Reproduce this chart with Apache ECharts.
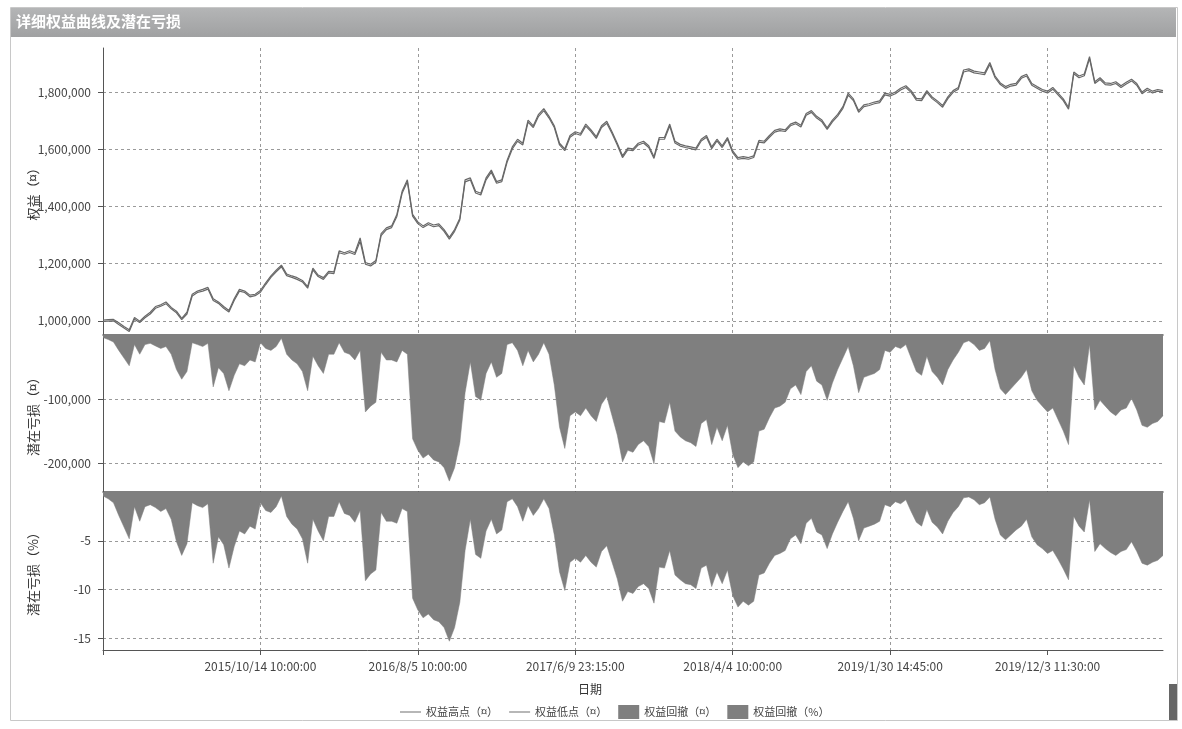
<!DOCTYPE html>
<html>
<head>
<meta charset="utf-8">
<title>详细权益曲线及潜在亏损</title>
<script src="https://cdn.jsdelivr.net/npm/echarts@6/dist/echarts.min.js"></script>
<style>
  html, body { margin: 0; padding: 0; background: #fff; }
  #chart { width: 1182px; height: 729px; }
</style>
</head>
<body>
<div id="chart"></div>
<script>
// x 轴刻度标签，每 30 个点一个
const tickLabels = ['', '2015/10/14 10:00:00', '2016/8/5 10:00:00', '2017/6/9 23:15:00',
  '2018/4/4 10:00:00', '2019/1/30 14:45:00', '2019/12/3 11:30:00'];

// 权益高点 / 低点（千）
const equityHigh = [
  1003, 1004, 1005, 993, 980, 969, 1012, 999, 1016, 1030, 1050, 1056, 1066, 1047, 1034, 1009, 1030, 1093, 1104, 1110,
  1117, 1077, 1066, 1050, 1036, 1077, 1110, 1104, 1090, 1093, 1106, 1133, 1157, 1177, 1195, 1164, 1157, 1151, 1141, 1120,
  1184, 1160, 1151, 1173, 1171, 1245, 1238, 1245, 1238, 1290, 1204,
  1198, 1211, 1305, 1325, 1332, 1372, 1453, 1493, 1372, 1346, 1332, 1343, 1335, 1339, 1319, 1292, 1319, 1359, 1493, 1500,
  1453, 1446, 1500, 1527, 1487, 1493, 1561, 1608, 1635, 1621, 1702, 1682, 1722, 1742, 1715, 1682, 1621, 1601, 1648, 1661,
  1655, 1688, 1668, 1644, 1682, 1698, 1661, 1621, 1577, 1604, 1601,
  1621, 1628, 1612, 1574, 1641, 1641, 1688, 1628, 1617, 1612, 1608, 1604, 1635, 1648, 1608, 1635, 1612, 1641, 1594, 1571,
  1574, 1571, 1577, 1631, 1628, 1648, 1666, 1671, 1668, 1688, 1695, 1684, 1725, 1735, 1715, 1702, 1675, 1702, 1722, 1749,
  1796, 1776, 1735, 1755, 1759, 1765, 1769, 1796, 1792, 1800,
  1813, 1822, 1805, 1778, 1776, 1805, 1783, 1769, 1753, 1783, 1805, 1816, 1877, 1881, 1873, 1870, 1867, 1903, 1856, 1832,
  1819, 1827, 1830, 1854, 1862, 1830, 1819, 1809, 1803, 1816, 1796, 1776, 1746, 1870, 1856, 1863, 1924, 1836, 1850, 1832,
  1830, 1836, 1822, 1834, 1845, 1830, 1800, 1813, 1803, 1809, 1805
];
const equityLow = [
  998, 999, 1000, 987, 975, 963, 1006, 994, 1011, 1024, 1044, 1051, 1060, 1042, 1028, 1004, 1024, 1087, 1099, 1104,
  1111, 1071, 1061, 1044, 1031, 1071, 1104, 1099, 1084, 1088, 1100, 1127, 1152, 1171, 1189, 1158, 1152, 1145, 1136, 1114,
  1178, 1155, 1145, 1168, 1165, 1238, 1233, 1239, 1232, 1278, 1198,
  1192, 1205, 1298, 1319, 1326, 1365, 1446, 1486, 1366, 1340, 1326, 1337, 1329, 1333, 1313, 1286, 1313, 1353, 1486, 1493,
  1447, 1440, 1493, 1520, 1481, 1487, 1554, 1601, 1628, 1615, 1695, 1676, 1715, 1735, 1709, 1676, 1615, 1595, 1642, 1655,
  1649, 1681, 1662, 1638, 1676, 1691, 1655, 1615, 1571, 1598, 1595,
  1615, 1622, 1606, 1568, 1635, 1635, 1681, 1622, 1611, 1606, 1602, 1598, 1629, 1642, 1602, 1629, 1606, 1635, 1588, 1565,
  1568, 1565, 1571, 1625, 1622, 1642, 1660, 1665, 1662, 1682, 1689, 1678, 1719, 1729, 1709, 1696, 1669, 1696, 1716, 1743,
  1789, 1770, 1729, 1749, 1753, 1759, 1763, 1790, 1786, 1794,
  1807, 1816, 1799, 1772, 1770, 1799, 1777, 1763, 1747, 1777, 1799, 1810, 1870, 1875, 1867, 1864, 1861, 1896, 1850, 1826,
  1813, 1821, 1824, 1848, 1856, 1824, 1813, 1803, 1797, 1810, 1790, 1770, 1740, 1864, 1850, 1857, 1917, 1830, 1844, 1826,
  1824, 1830, 1816, 1828, 1839, 1824, 1794, 1807, 1797, 1803, 1799
];

// 潜在亏损（千）
const drawdown = [
  -4, -7, -11, -24, -36, -48, -15, -30, -15, -13, -17, -21, -18, -30, -54, -69, -57, -12, -15, -18,
  -13, -81, -51, -60, -87, -63, -45, -48, -39, -42, -12, -21, -24, -18, -5, -30, -39, -45, -57, -87,
  -33, -48, -60, -30, -30, -12, -27, -30, -39, -24, -120,
  -111, -105, -27, -39, -39, -42, -24, -30, -162, -180, -192, -186, -195, -198, -207, -228, -207, -168, -90, -42,
  -96, -102, -60, -42, -66, -60, -15, -12, -24, -48, -24, -42, -30, -12, -30, -78, -144, -177, -126, -120,
  -126, -114, -126, -135, -108, -96, -126, -156, -198, -180, -183,
  -171, -165, -174, -201, -135, -137, -105, -150, -159, -165, -168, -174, -138, -132, -171, -144, -165, -141, -186, -207,
  -198, -204, -198, -150, -147, -129, -114, -111, -105, -84, -78, -93, -57, -48, -72, -78, -102, -75, -54, -36,
  -18, -48, -90, -66, -63, -60, -54, -24, -27, -18,
  -21, -15, -36, -57, -63, -33, -57, -66, -78, -54, -39, -27, -12, -9, -15, -24, -21, -9, -54, -84,
  -93, -84, -75, -66, -54, -87, -102, -111, -120, -114, -132, -150, -171, -48, -66, -78, -15, -117, -102, -111,
  -120, -126, -117, -114, -99, -117, -141, -144, -138, -135, -126
];

// 潜在亏损（%）
const drawdownPct = [
  -0.4, -0.7, -1.1, -2.4, -3.6, -4.8, -1.5, -3.0, -1.5, -1.3, -1.6, -2.0, -1.7, -2.8, -5.1, -6.5, -5.3, -1.1, -1.4, -1.6,
  -1.2, -7.3, -4.6, -5.4, -7.8, -5.6, -4.0, -4.3, -3.5, -3.8, -1.1, -1.9, -2.1, -1.5, -0.4, -2.5, -3.3, -3.8, -4.8, -7.3,
  -2.8, -4.0, -5.0, -2.5, -2.5, -1.0, -2.2, -2.4, -3.1, -1.9, -9.1,
  -8.4, -8.0, -2.1, -3.0, -3.0, -3.2, -1.7, -2.0, -10.9, -12.1, -12.9, -12.5, -13.1, -13.3, -13.9, -15.3, -13.9, -11.3, -6.0, -2.8,
  -6.4, -6.8, -4.0, -2.8, -4.3, -3.9, -1.0, -0.7, -1.5, -3.0, -1.4, -2.4, -1.7, -0.7, -1.7, -4.4, -8.2, -10.1, -7.2, -6.8,
  -7.2, -6.5, -7.2, -7.7, -6.1, -5.5, -7.2, -8.9, -11.2, -10.2, -10.4,
  -9.7, -9.4, -9.9, -11.4, -7.7, -7.8, -6.0, -8.5, -9.0, -9.4, -9.5, -9.9, -7.8, -7.5, -9.7, -8.2, -9.4, -8.0, -10.6, -11.8,
  -11.2, -11.6, -11.2, -8.5, -8.3, -7.3, -6.5, -6.3, -6.0, -4.8, -4.4, -5.3, -3.2, -2.7, -4.1, -4.4, -5.8, -4.3, -3.1, -2.0,
  -1.0, -2.7, -5.0, -3.7, -3.5, -3.3, -3.0, -1.3, -1.5, -1.0,
  -1.2, -0.8, -2.0, -3.1, -3.5, -1.8, -3.1, -3.6, -4.3, -3.0, -2.1, -1.5, -0.6, -0.5, -0.8, -1.3, -1.1, -0.5, -2.8, -4.4,
  -4.9, -4.4, -3.9, -3.5, -2.8, -4.6, -5.4, -5.8, -6.3, -6.0, -6.9, -7.9, -9.0, -2.5, -3.5, -4.1, -0.8, -6.1, -5.3, -5.8,
  -6.2, -6.5, -6.1, -5.9, -5.1, -6.1, -7.3, -7.5, -7.2, -7.0, -6.5
];

const FONT = '"Noto Sans CJK SC", "Noto Sans", sans-serif';
const TICK_STEP = 30;
const dashed = { color: '#9a9a9a', type: [3, 3], width: 1 };
const axisColor = '#555';
const lineColor = '#686868';
const areaColor = '#7f7f7f';
const LINE_ICON = 'path://M0,0L22,0L22,1L0,1Z';

function toPoints(arr, k) {
  return arr.map((v, i) => [i, v * k]);
}

const xBase = {
  type: 'value',
  min: 0,
  max: equityHigh.length - 1,
  interval: TICK_STEP,
  axisLine: { show: false },
  axisTick: { show: false },
  axisLabel: { show: false },
  splitLine: { show: true, showMaxLine: false, lineStyle: dashed }
};

const yBase = {
  type: 'value',
  axisLine: { show: true, lineStyle: { color: axisColor } },
  axisTick: { show: true, length: 5, lineStyle: { color: axisColor } },
  axisLabel: { color: '#444', fontSize: 12, fontFamily: FONT, margin: 12, showMinLabel: false, showMaxLabel: false },
  splitLine: { show: true, showMinLine: false, showMaxLine: false, lineStyle: dashed },
  nameLocation: 'middle',
  nameGap: 63,
  nameMoveOverlap: false,
  nameTextStyle: { color: '#333', fontSize: 13, fontFamily: FONT }
};

const chart = echarts.init(document.getElementById('chart'));

chart.setOption({
  animation: false,
  backgroundColor: '#fff',
  textStyle: { fontFamily: FONT },
  grid: [
    { left: 103, top: 48, width: 1060, height: 286 },
    { left: 103, top: 335, width: 1060, height: 157 },
    { left: 103, top: 492, width: 1060, height: 158 }
  ],
  xAxis: [
    Object.assign({}, xBase, { gridIndex: 0 }),
    Object.assign({}, xBase, {
      gridIndex: 1, position: 'top',
      axisLine: { show: true, onZero: false, lineStyle: { color: axisColor, width: 1.5 } }
    }),
    Object.assign({}, xBase, {
      gridIndex: 2,
      axisLine: { show: true, onZero: false, lineStyle: { color: axisColor } },
      axisTick: { show: true, length: 5, lineStyle: { color: axisColor },
        customValues: tickLabels.map((_, k) => k * TICK_STEP) },
      axisLabel: {
        show: true, margin: 10, color: '#444', fontSize: 12, fontFamily: FONT, showMaxLabel: false,
        formatter: v => tickLabels[Math.round(v / TICK_STEP)] || ''
      }
    }),
    Object.assign({}, xBase, {
      gridIndex: 2, position: 'top',
      splitLine: { show: false },
      axisLine: { show: true, onZero: false, lineStyle: { color: axisColor, width: 1.5 } }
    })
  ],
  yAxis: [
    Object.assign({}, yBase, { gridIndex: 0, min: 954000, max: 1954000, splitNumber: 5, name: '权益（¤）' }),
    Object.assign({}, yBase, { gridIndex: 1, min: -245000, max: 0, splitNumber: 3, name: '潜在亏损（¤）' }),
    Object.assign({}, yBase, { gridIndex: 2, min: -16.2, max: 0, splitNumber: 3, name: '潜在亏损（%）' })
  ],
  legend: {
    left: 395,
    top: 700,
    itemWidth: 21,
    itemHeight: 14,
    itemGap: 11,
    selectedMode: false,
    textStyle: { color: '#444', fontSize: 11, fontFamily: FONT },
    data: [
      { name: '权益高点（¤）', icon: LINE_ICON },
      { name: '权益低点（¤）', icon: LINE_ICON },
      { name: '权益回撤（¤）', icon: 'rect' },
      { name: '权益回撤（%）', icon: 'rect' }
    ]
  },
  graphic: [
    { type: 'rect', shape: { x: 10.5, y: 7.5, width: 1167, height: 713 },
      style: { fill: 'none', stroke: '#c8c8c8', lineWidth: 1 } },
    { type: 'rect', shape: { x: 11, y: 8, width: 1165, height: 29 },
      style: { fill: new echarts.graphic.LinearGradient(0, 0, 0, 1, [
        { offset: 0, color: '#b4b5b6' }, { offset: 1, color: '#a0a1a2' }]) } },
    { type: 'text', left: 16, top: 14,
      style: { text: '详细权益曲线及潜在亏损', fill: '#fff', font: 'bold 15px ' + FONT } },
    { type: 'text', x: 590, y: 689,
      style: { text: '日期', fill: '#333', font: '12px ' + FONT, textAlign: 'center', textVerticalAlign: 'middle' } },
    { type: 'rect', shape: { x: 1169, y: 684, width: 8, height: 36 }, style: { fill: '#666' } }
  ],
  series: [
    {
      name: '权益高点（¤）', type: 'line', xAxisIndex: 0, yAxisIndex: 0,
      data: toPoints(equityHigh, 1000), symbol: 'none',
      lineStyle: { color: lineColor, width: 1.2 }, itemStyle: { color: lineColor }
    },
    {
      name: '权益低点（¤）', type: 'line', xAxisIndex: 0, yAxisIndex: 0,
      data: toPoints(equityLow, 1000), symbol: 'none',
      lineStyle: { color: lineColor, width: 1.2 }, itemStyle: { color: lineColor }
    },
    {
      name: '权益回撤（¤）', type: 'line', xAxisIndex: 1, yAxisIndex: 1,
      data: toPoints(drawdown, 1000), symbol: 'none',
      lineStyle: { color: areaColor, width: 0.5 }, itemStyle: { color: areaColor },
      areaStyle: { color: areaColor, opacity: 1 }
    },
    {
      name: '权益回撤（%）', type: 'line', xAxisIndex: 2, yAxisIndex: 2,
      data: toPoints(drawdownPct, 1), symbol: 'none',
      lineStyle: { color: areaColor, width: 0.5 }, itemStyle: { color: areaColor },
      areaStyle: { color: areaColor, opacity: 1 }
    }
  ]
});
</script>
</body>
</html>
